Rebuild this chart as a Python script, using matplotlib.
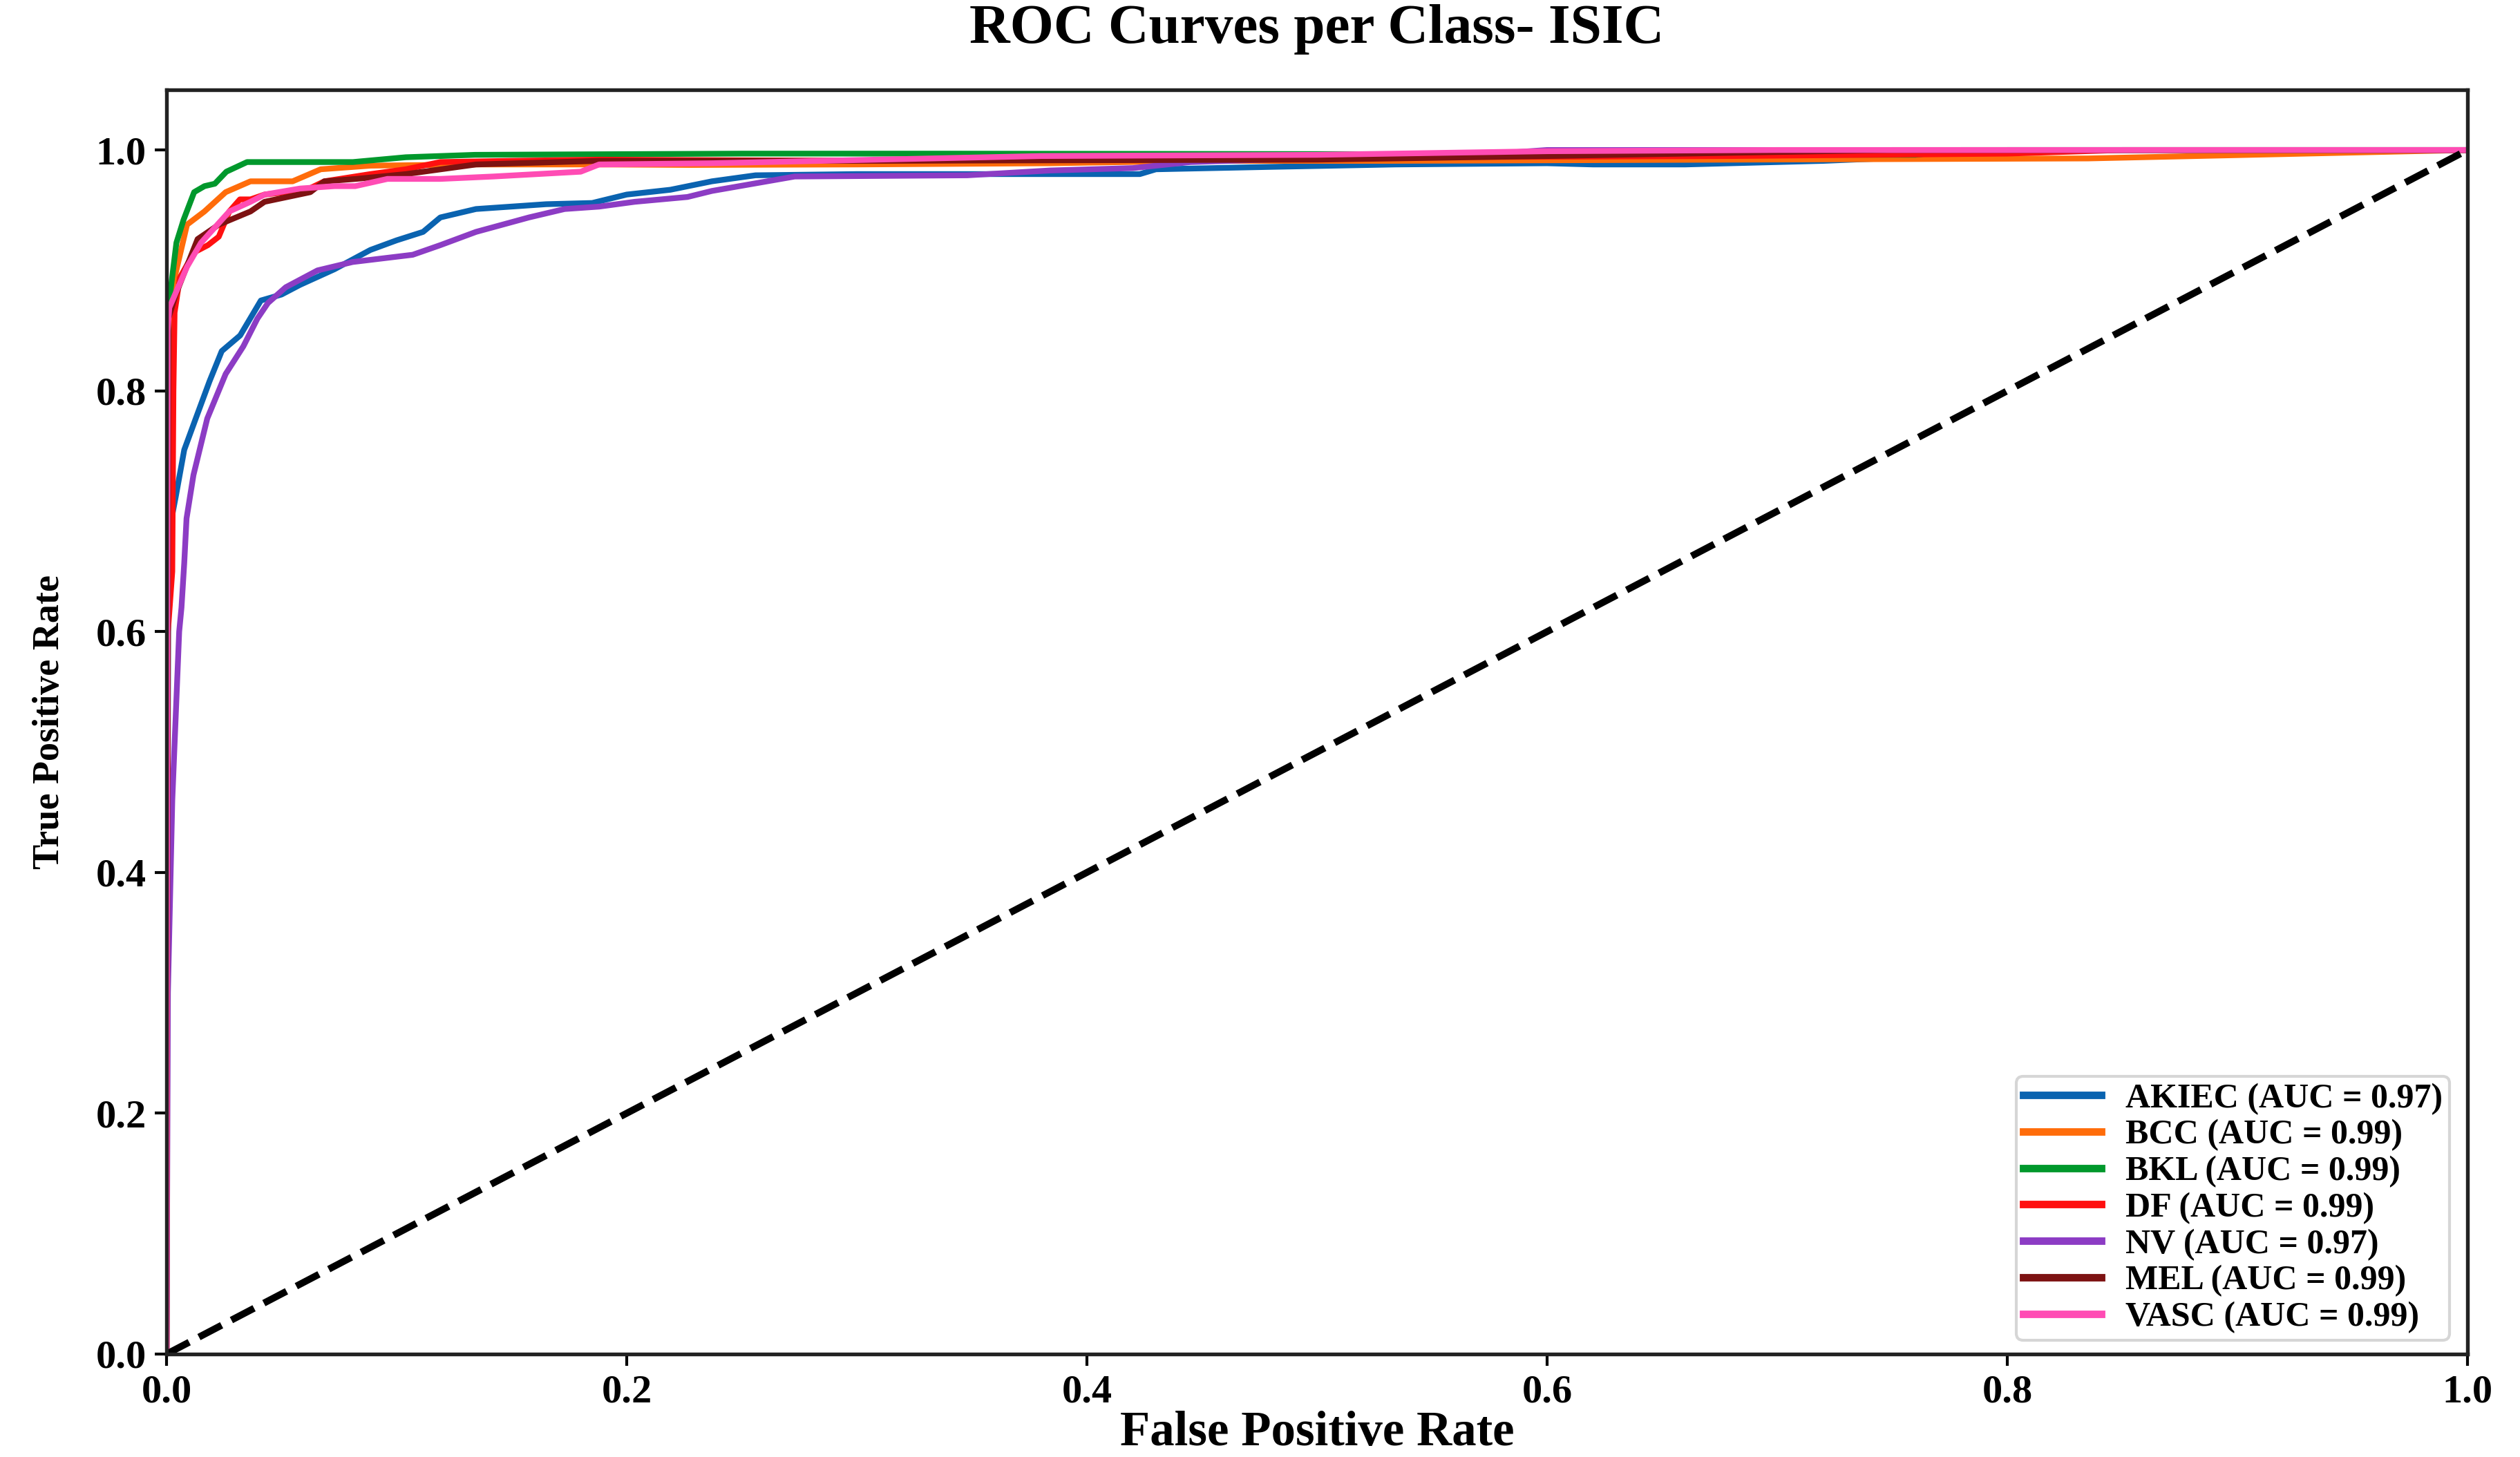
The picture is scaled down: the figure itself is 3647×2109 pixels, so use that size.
import matplotlib
matplotlib.use("Agg")
import matplotlib.pyplot as plt

plt.rcParams['font.family'] = ['Liberation Serif', 'DejaVu Serif']
plt.rcParams['font.weight'] = 'bold'

# ---------------- data ----------------
class_names = ["AKIEC", "BCC", "BKL", "DF", "NV", "MEL", "VASC"]
auc_values = [0.97, 0.99, 0.99, 0.99, 0.97, 0.99, 0.99]
colors = ["#0a63b0", "#ff6c0a", "#00982c", "#ff1010", "#8c3cc4", "#7d1212", "#ff4cb4"]

akiec_fpr = [0, 0.0008, 0.004, 0.0077, 0.0127, 0.0187, 0.024, 0.032, 0.041, 0.050, 0.058,
             0.073, 0.0886, 0.100, 0.1115, 0.119, 0.1345, 0.165, 0.185, 0.200, 0.219, 0.237,
             0.256, 0.30, 0.35, 0.423, 0.43, 0.48, 0.534, 0.60, 0.62, 0.66, 0.68, 0.72,
             0.758, 0.80, 1.0]
akiec_tpr = [0, 0.68, 0.712, 0.751, 0.777, 0.808, 0.833, 0.846, 0.875, 0.880, 0.888,
             0.901, 0.917, 0.925, 0.932, 0.944, 0.951, 0.955, 0.956, 0.963, 0.967, 0.974,
             0.979, 0.980, 0.980, 0.980, 0.984, 0.986, 0.988, 0.989, 0.988, 0.988, 0.989, 0.991,
             0.994, 1.0, 1.0]

bcc_fpr = [0, 0.0008, 0.0012, 0.0089, 0.0165, 0.0257, 0.0365, 0.0548, 0.067, 0.0886,
           0.1345, 0.188, 0.228, 0.30, 0.384, 0.45, 0.53, 0.68, 0.835, 1.0]
bcc_tpr = [0, 0.80, 0.875, 0.938, 0.949, 0.965, 0.974, 0.974, 0.984, 0.987,
           0.988, 0.988, 0.9876, 0.988, 0.989, 0.991, 0.991, 0.992, 0.993, 1.0]

bkl_fpr = [0, 0.0008, 0.0012, 0.0043, 0.0074, 0.012, 0.0165, 0.021, 0.026, 0.035,
           0.081, 0.104, 0.134, 0.25, 0.34, 0.76, 0.78, 1.0]
bkl_tpr = [0, 0.86, 0.875, 0.923, 0.942, 0.965, 0.970, 0.972, 0.982, 0.990,
           0.990, 0.994, 0.996, 0.997, 0.997, 0.996, 1.0, 1.0]

df_fpr = [0, 0.0006, 0.0025, 0.003, 0.0035, 0.0058, 0.012, 0.018, 0.0227, 0.0273, 0.0319,
          0.0365, 0.0426, 0.061, 0.0686, 0.0886, 0.104, 0.119, 0.150, 0.188, 0.30, 0.38,
          0.53, 0.68, 0.80, 0.85, 1.0]
df_tpr = [0, 0.60, 0.65, 0.80, 0.865, 0.894, 0.915, 0.921, 0.928, 0.949, 0.959,
          0.959, 0.963, 0.967, 0.974, 0.980, 0.984, 0.990, 0.991, 0.992, 0.991, 0.992,
          0.994, 0.995, 0.997, 1.0, 1.0]

nv_fpr = [0, 0.0006, 0.0025, 0.0055, 0.0065, 0.0077, 0.0087, 0.0117, 0.0177, 0.0257,
          0.0334, 0.0395, 0.0441, 0.0518, 0.0656, 0.0809, 0.107, 0.119, 0.1345, 0.1575,
          0.173, 0.188, 0.2035, 0.2264, 0.237, 0.273, 0.348, 0.384, 0.42, 0.445, 0.528,
          0.57, 0.60, 1.0]
nv_tpr = [0, 0.30, 0.46, 0.60, 0.62, 0.657, 0.694, 0.730, 0.777, 0.814,
          0.837, 0.860, 0.873, 0.886, 0.900, 0.907, 0.913, 0.921, 0.932, 0.944,
          0.951, 0.953, 0.957, 0.961, 0.966, 0.978, 0.979, 0.983, 0.985, 0.990, 0.995,
          0.996, 1.0, 1.0]

mel_fpr = [0, 0.0008, 0.004, 0.0135, 0.0227, 0.0365, 0.0426, 0.0625, 0.0686, 0.0824,
           0.104, 0.1345, 0.188, 0.30, 0.50, 0.60, 0.75, 1.0]
mel_tpr = [0, 0.86, 0.88, 0.926, 0.938, 0.949, 0.957, 0.965, 0.974, 0.976,
           0.980, 0.988, 0.991, 0.991, 0.992, 0.995, 1.0, 1.0]

vasc_fpr = [0, 0.0005, 0.0012, 0.0089, 0.015, 0.0273, 0.0365, 0.0426, 0.058, 0.073, 0.082,
            0.096, 0.119, 0.142, 0.18, 0.188, 0.237, 0.38, 0.50, 0.60, 0.70, 1.0]
vasc_tpr = [0, 0.85, 0.869, 0.903, 0.923, 0.949, 0.957, 0.963, 0.968, 0.970, 0.970,
            0.976, 0.976, 0.978, 0.982, 0.988, 0.989, 0.995, 0.996, 0.999, 1.0, 1.0]

fpr_list = [akiec_fpr, bcc_fpr, bkl_fpr, df_fpr, nv_fpr, mel_fpr, vasc_fpr]
tpr_list = [akiec_tpr, bcc_tpr, bkl_tpr, df_tpr, nv_tpr, mel_tpr, vasc_tpr]

x_ticks = [0.0, 0.2, 0.4, 0.6, 0.8, 1.0]
y_ticks = [0.0, 0.2, 0.4, 0.6, 0.8, 1.0]

# ---------------- figure ----------------
W, H, DPI = 3647, 2109, 300
fig = plt.figure(figsize=(W / DPI, H / DPI), dpi=DPI)
left, right, bottom, top = 241 / W, 3571 / W, 1 - 1960 / H, 1 - 130 / H
ax = fig.add_axes([left, bottom, right - left, top - bottom])

for name, auc, c, fx, ty in zip(class_names, auc_values, colors, fpr_list, tpr_list):
    ax.plot(fx, ty, color=c, lw=2.0, label=f"{name} (AUC = {auc:.2f})",
            solid_joinstyle='round')

ax.plot([0, 1], [0, 1], 'k--', lw=2.4)

ax.set_xlim(0, 1.0)
ax.set_ylim(0, 1.05)
ax.set_xticks(x_ticks)
ax.set_yticks(y_ticks)
ax.set_xticklabels([f"{t:.1f}" for t in x_ticks])
ax.set_yticklabels([f"{t:.1f}" for t in y_ticks])
ax.tick_params(labelsize=14, width=1.0, length=4, pad=3)
for s in ax.spines.values():
    s.set_linewidth(1.3)
    s.set_color("#222222")

ax.set_xlabel("False Positive Rate", fontsize=17, fontweight='bold')
ax.xaxis.label.set_va('baseline')
ax.xaxis.set_label_coords(0.5, (1960 - 2092) / 1830)
ax.set_ylabel("True Positive Rate", fontsize=13, fontweight='bold')
ax.yaxis.label.set_va('center')
ax.yaxis.set_label_coords((72 - 241) / 3330, 0.5)

fig.text((left + right) / 2, 1 - 62 / H, "ROC Curves per Class- ISIC",
         ha='center', va='baseline', fontsize=19.5, fontweight='bold')

leg = ax.legend(loc='lower right', bbox_to_anchor=(0.9922, 0.0109), borderaxespad=0,
                fontsize=12, handlelength=2.25, handletextpad=0.7, labelspacing=0.13,
                borderpad=0.2, frameon=True, fancybox=True)
leg.get_frame().set_linewidth(1.0)
leg.get_frame().set_edgecolor("#cccccc")
for line in leg.get_lines():
    line.set_linewidth(2.6)

fig.savefig("out.png", dpi=DPI)
